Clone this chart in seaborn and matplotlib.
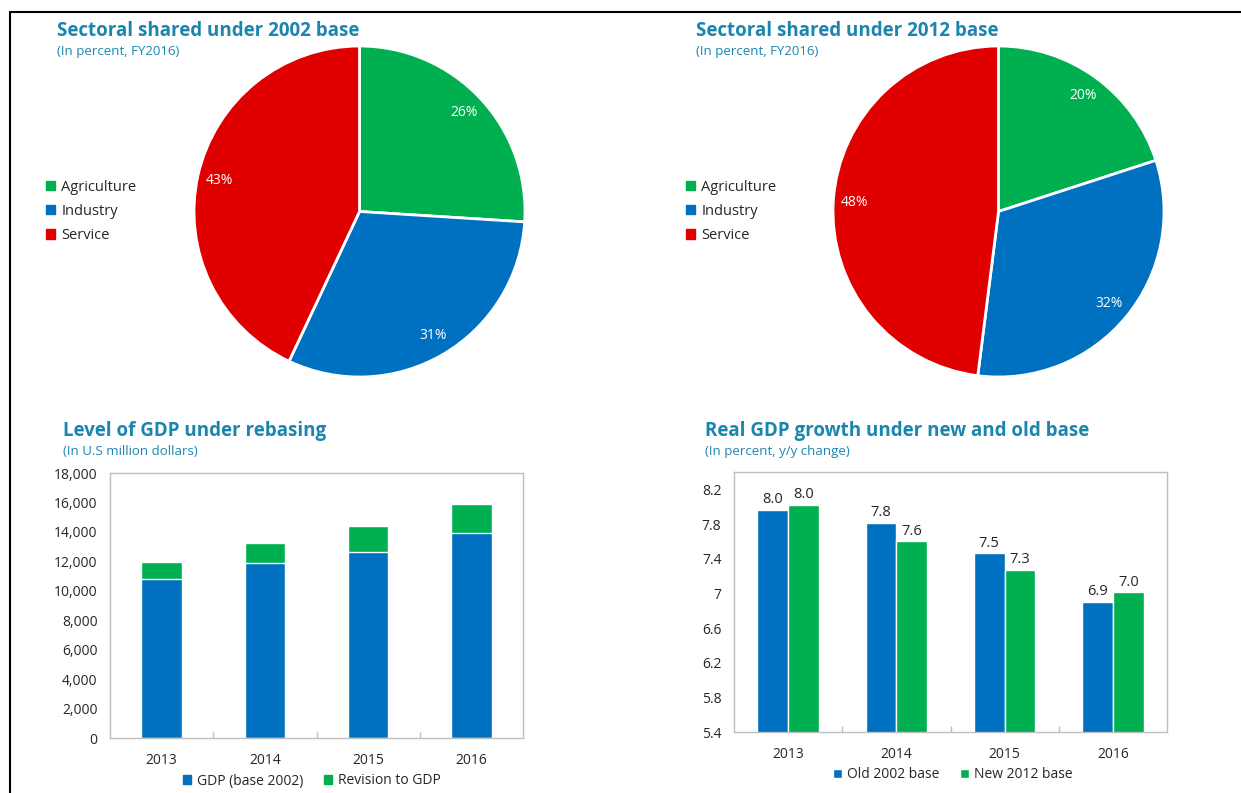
import numpy as np
import pandas as pd
import seaborn as sns
import matplotlib.pyplot as plt
from matplotlib.patches import Patch
from matplotlib.lines import Line2D

sns.set_theme(style='white')
plt.rcParams['font.family'] = ['Open Sans', 'DejaVu Sans']

GREEN = '#00B050'
BLUE = '#0070C0'
RED = '#E00000'
TITLE = '#1A86B0'
FRAME = '#BFBFBF'

# data
sectors = ['Agriculture', 'Industry', 'Service']
share_2002 = [26, 31, 43]
share_2012 = [20, 32, 48]

years = ['2013', '2014', '2015', '2016']
gdp_base2002 = [10800, 11870, 12640, 13910]
gdp_revision = [1160, 1360, 1790, 2000]
level_ticks = [0, 2000, 4000, 6000, 8000, 10000, 12000, 14000, 16000, 18000]

growth_old = [7.96, 7.81, 7.46, 6.90]
growth_new = [8.02, 7.60, 7.27, 7.01]
growth_ticks = [5.4, 5.8, 6.2, 6.6, 7.0, 7.4, 7.8, 8.2]
growth_ticklabels = ['5.4', '5.8', '6.2', '6.6', '7', '7.4', '7.8', '8.2']

W, H = 1241, 793
fig = plt.figure(figsize=(W / 100, H / 100), dpi=100)


def px_axes(left, top, right, bottom):
    return fig.add_axes([left / W, 1 - bottom / H, (right - left) / W, (bottom - top) / H])


def px_text(x, y, s, **kw):
    fig.text(x / W, 1 - y / H, s, va='center', ha='left', **kw)


def draw_pie(cx, cy, r, shares, legend_x):
    half = r * 1.25
    ax = px_axes(cx - half, cy - half, cx + half, cy + half)
    ax.pie(shares, colors=[GREEN, BLUE, RED], startangle=90,
           counterclock=False, autopct='%.0f%%', pctdistance=0.87,
           wedgeprops=dict(edgecolor='white', linewidth=2),
           textprops=dict(color='white', fontsize=10))
    ax.set_xlim(-1.25, 1.25)
    ax.set_ylim(-1.25, 1.25)
    handles = [Patch(color=c) for c in [GREEN, BLUE, RED]]
    fig.legend(handles, sectors, loc='center left', bbox_to_anchor=(legend_x / W, 1 - 211.5 / H),
               frameon=False, fontsize=10.5, handlelength=0.6, handleheight=0.6,
               handletextpad=0.45, labelspacing=0.62, borderpad=0, borderaxespad=0)


# pies
draw_pie(359.5, 211.5, 165.5, share_2002, 46)
draw_pie(998.5, 211.5, 165.5, share_2012, 686)

px_text(57, 31, 'Sectoral shared under 2002 base', color=TITLE, fontsize=13.5, fontweight='bold')
px_text(57, 52, '(In percent, FY2016)', color=TITLE, fontsize=9.5)
px_text(696, 31, 'Sectoral shared under 2012 base', color=TITLE, fontsize=13.5, fontweight='bold')
px_text(696, 52, '(In percent, FY2016)', color=TITLE, fontsize=9.5)
px_text(63, 431, 'Level of GDP under rebasing', color=TITLE, fontsize=13.5, fontweight='bold')
px_text(63, 451, '(In U.S million dollars)', color=TITLE, fontsize=9.5)
px_text(705, 431, 'Real GDP growth under new and old base', color=TITLE, fontsize=13.5, fontweight='bold')
px_text(705, 452, '(In percent, y/y change)', color=TITLE, fontsize=9.5)


def style_axes(ax):
    for sp in ax.spines.values():
        sp.set_visible(True)
        sp.set_color(FRAME)
        sp.set_linewidth(1)
    ax.set_xlabel('')
    ax.set_ylabel('')
    ax.tick_params(axis='y', length=0, labelsize=10, pad=9)
    ax.tick_params(axis='x', which='major', length=0, labelsize=10, pad=11)
    ax.set_xticks([0.5, 1.5, 2.5], minor=True)
    ax.tick_params(axis='x', which='minor', direction='in', length=4, color=FRAME, bottom=True)
    ax.set_xlim(-0.5, 3.5)


# level of GDP (stacked)
ax1 = px_axes(110, 473, 523, 738)
totals = np.array(gdp_base2002) + np.array(gdp_revision)
sns.barplot(x=years, y=totals, color=GREEN, saturation=1, width=0.39, ax=ax1)
sns.barplot(x=years, y=gdp_base2002, color=BLUE, saturation=1, width=0.39,
            edgecolor='white', linewidth=1, ax=ax1)
ax1.set_ylim(0, 18000)
ax1.set_yticks(level_ticks)
ax1.set_yticklabels([f'{v:,}' for v in level_ticks])
style_axes(ax1)
ax1.legend([Patch(color=BLUE), Patch(color=GREEN)], ['GDP (base 2002)', 'Revision to GDP'],
           loc='center', bbox_to_anchor=(312 / W, 1 - 781 / H), bbox_transform=fig.transFigure,
           ncol=2, frameon=False, fontsize=10, handlelength=0.6, handleheight=0.6,
           handletextpad=0.4, columnspacing=1.5)

# real GDP growth
ax2 = px_axes(734, 472, 1167, 732)
growth = pd.DataFrame({
    'year': years * 2,
    'growth': growth_old + growth_new,
    'base': ['Old 2002 base'] * 4 + ['New 2012 base'] * 4,
})
sns.barplot(data=growth, x='year', y='growth', hue='base', palette=[BLUE, GREEN],
            saturation=1, width=0.57, errorbar=None, edgecolor='white', linewidth=1, ax=ax2)
for cont in ax2.containers:
    ax2.bar_label(cont, fmt='%.1f', padding=2, fontsize=10.5)
ax2.set_ylim(5.4, 8.4)
ax2.set_yticks(growth_ticks)
ax2.set_yticklabels(growth_ticklabels)
style_axes(ax2)
h, l = ax2.get_legend_handles_labels()
ax2.legend(h, l, loc='center', bbox_to_anchor=(953 / W, 1 - 775 / H), bbox_transform=fig.transFigure,
           ncol=2, frameon=False, fontsize=10, handlelength=0.6, handleheight=0.6,
           handletextpad=0.4, columnspacing=1.5)

# page border
fig.add_artist(Line2D([10 / W, 10 / W], [0, 1 - 12 / H], color='black', linewidth=1.5))
fig.add_artist(Line2D([10 / W, 1], [1 - 12 / H, 1 - 12 / H], color='black', linewidth=1.5))

fig.savefig('out.png', dpi=100)
